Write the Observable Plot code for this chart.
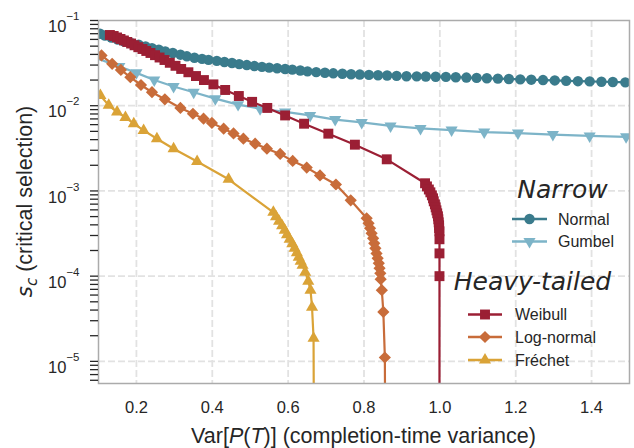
<!DOCTYPE html>
<html>
<head>
<meta charset="utf-8">
<script src="https://cdn.jsdelivr.net/npm/d3@7"></script>
<script src="https://cdn.jsdelivr.net/npm/@observablehq/plot@0.6"></script>
<style>
  body { margin: 0; background: #fff; }
  #chart svg { display: block; }
</style>
</head>
<body>
<div id="chart"></div>
<script>
// Critical selection s_c against completion-time variance, one curve per distribution family.

// ---- Narrow family ----
const normalX = [0.104,0.117,0.134,0.151,0.168,0.187,0.206,0.224,0.241,0.259,
  0.276,0.296,0.316,0.333,0.353,0.373,0.390,0.412,0.432,0.452,
  0.471,0.491,0.511,0.531,0.550,0.571,0.592,0.611,0.632,0.651,
  0.674,0.697,0.719,0.743,0.766,0.789,0.813,0.837,0.861,0.886,
  0.912,0.939,0.963,0.989,1.016,1.042,1.070,1.097,1.124,1.153,
  1.182,1.212,1.241,1.272,1.303,1.333,1.364,1.395,1.426,1.456,1.489];
const normalY = [0.0700,0.0667,0.0632,0.0598,0.0567,0.0543,0.0521,0.0496,0.0474,0.0454,
  0.0434,0.0415,0.0397,0.0380,0.0366,0.0355,0.0345,0.0336,0.0326,0.0317,
  0.0308,0.0300,0.0292,0.0286,0.0280,0.0275,0.0270,0.0265,0.0259,0.0253,
  0.0248,0.0244,0.0240,0.0237,0.0234,0.0232,0.0230,0.0228,0.0226,0.0224,
  0.0222,0.0221,0.0220,0.0219,0.0218,0.0216,0.0214,0.0212,0.0210,0.0208,
  0.0206,0.0204,0.0202,0.0200,0.0198,0.0196,0.0194,0.0193,0.0191,0.0190,0.0188];

const gumbelX = [0.092,0.155,0.200,0.247,0.298,0.351,0.408,0.468,0.526,0.592,0.658,
  0.724,0.794,0.870,0.949,1.031,1.117,1.206,1.298,1.395,1.491];
const gumbelY = [0.0365,0.0289,0.0243,0.0200,0.0168,0.0144,0.0121,0.0103,0.00922,0.00846,0.00769,
  0.00687,0.00637,0.00579,0.00542,0.00518,0.00490,0.00477,0.00458,0.00442,0.00431];

// ---- Heavy-tailed family ----
const weibullX = [0.130,0.140,0.149,0.158,0.167,0.176,0.186,0.195,0.205,0.216,
  0.226,0.237,0.249,0.261,0.274,0.288,0.303,0.318,0.337,0.357,
  0.378,0.403,0.434,0.470,0.505,0.545,0.592,0.642,0.706,0.776,0.860,
  0.961,0.966,0.971,0.975,0.979,0.982,0.984,0.987,0.989,0.991,
  0.993,0.995,0.996,0.997,0.998,0.998,0.999,0.999,0.999,0.999,0.999];
const weibullY = [0.0676,0.0658,0.0632,0.0607,0.0583,0.0560,0.0537,0.0512,0.0486,0.0463,
  0.0439,0.0416,0.0392,0.0368,0.0344,0.0319,0.0294,0.0270,0.0247,0.0223,
  0.0200,0.0178,0.0153,0.0130,0.0111,0.00942,0.00769,0.00615,0.00470,0.00349,0.00235,
  0.00123,0.00113,0.00104,0.000963,0.000888,0.000819,0.000755,0.000696,0.000642,0.000592,
  0.000546,0.000504,0.000465,0.000428,0.000395,0.000365,0.000336,0.000271,0.000185,0.000100,0.000001];

const lognormX = [0.108,0.136,0.159,0.184,0.212,0.241,0.275,0.316,0.349,0.377,
  0.399,0.430,0.456,0.482,0.513,0.544,0.579,0.612,0.649,0.684,0.726,0.765,
  0.807,0.812,0.816,0.820,0.824,0.827,0.830,0.833,0.836,0.839,
  0.841,0.843,0.844,0.847,0.851,0.855,0.856];
const lognormY = [0.0389,0.0310,0.0263,0.0216,0.0175,0.0144,0.0119,0.00942,0.00805,0.00704,
  0.00629,0.00537,0.00473,0.00410,0.00359,0.00313,0.00272,0.00225,0.00188,0.00152,0.00119,0.000776,
  0.000478,0.000417,0.000365,0.000318,0.000278,0.000243,0.000212,0.000185,0.000162,0.000142,
  0.000124,0.000108,0.0000920,0.0000684,0.0000380,0.0000111,0.000001];

const frechetX = [0.105,0.127,0.149,0.171,0.193,0.219,0.254,0.298,0.360,0.443,
  0.561,0.568,0.576,0.584,0.591,0.597,0.604,0.611,0.617,0.623,
  0.628,0.633,0.638,0.645,0.653,0.659,0.663,0.667,0.668];
const frechetY = [0.0132,0.0101,0.00842,0.00729,0.00615,0.00513,0.00410,0.00313,0.00222,0.00137,
  0.000561,0.000497,0.000440,0.000390,0.000345,0.000306,0.000271,0.000240,0.000212,0.000188,
  0.000167,0.000150,0.000134,0.000111,0.0000871,0.0000684,0.0000432,0.0000187,0.000001];

// ---- axis ticks ----
const xTicks = [0.2, 0.4, 0.6, 0.8, 1.0, 1.2, 1.4];
const yDecades = [1e-5, 1e-4, 1e-3, 1e-2, 1e-1];
const yMinorSteps = [2, 3, 4, 5, 6, 7, 8, 9];

const rows = (xs, ys) => xs.map((x, i) => ({x, y: ys[i]}));

const groups = [
  {title: "Narrow", series: [
    {name: "Normal", color: "#3a7b8c", symbol: "circle", r: 5.2, rotate: 0, data: rows(normalX, normalY)},
    {name: "Gumbel", color: "#7db4c8", symbol: "triangle", r: 4.5, rotate: 180, data: rows(gumbelX, gumbelY)}
  ]},
  {title: "Heavy-tailed", series: [
    {name: "Weibull", color: "#9b1f34", symbol: "square", r: 5.6, rotate: 0, data: rows(weibullX, weibullY)},
    {name: "Log-normal", color: "#c86c3a", symbol: "diamond2", r: 5.5, rotate: 0, data: rows(lognormX, lognormY)},
    {name: "Fréchet", color: "#daa337", symbol: "triangle", r: 4.5, rotate: 0, data: rows(frechetX, frechetY)}
  ]}
];
const allSeries = groups.flatMap(g => g.series);

const yDomain = [5.5e-6, 0.1];
const yMinor = yDecades.flatMap(d => yMinorSteps.map(k => k * d / 10))
  .filter(v => v >= yDomain[0] && v <= yDomain[1]);

const textColor = "#262626";
const gridStyle = {stroke: "#e2e2e2", strokeOpacity: 1, strokeWidth: 1.8, strokeDasharray: "7,3"};

const seriesMarks = allSeries.flatMap(s => [
  Plot.line(s.data, {x: "x", y: "y", stroke: s.color, strokeWidth: 2.2, clip: true}),
  Plot.dot(s.data, {x: "x", y: "y", symbol: s.symbol, r: s.r, rotate: s.rotate, fill: s.color, stroke: "none", clip: true})
]);

const chart = Plot.plot({
  width: 634,
  height: 448,
  marginLeft: 98,
  marginRight: 5,
  marginTop: 20,
  marginBottom: 65,
  style: {fontFamily: "'Liberation Sans', Arial, sans-serif", fontSize: "16.5px", color: textColor, background: "#fff"},
  x: {domain: [0.1, 1.5], label: null},
  y: {type: "log", domain: yDomain, label: null},
  marks: [
    Plot.gridX(xTicks, gridStyle),
    Plot.gridY(yDecades.filter(d => d < 0.1), gridStyle),
    ...seriesMarks,
    Plot.frame({stroke: "#ababab", strokeWidth: 1.5}),
    Plot.axisX(xTicks, {tickSize: 0, tickPadding: 18, tickFormat: d3.format(".1f"), color: textColor, fontSize: 16.5}),
    Plot.axisY(yMinor, {tickSize: 8, tickFormat: () => "", color: textColor, strokeWidth: 1.3}),
    Plot.axisY(yDecades, {tickSize: 8, tickPadding: 11, color: textColor, strokeWidth: 1.3, fontSize: 16.5,
      tickFormat: d => "\u2212" + String(-Math.round(Math.log10(d)))})
  ]
});

document.getElementById("chart").appendChild(chart);
const svg = d3.select(chart);

// y tick labels as powers of ten: "10" with a raised exponent
svg.selectAll('g[aria-label="y-axis tick label"] text').each(function () {
  const exp = this.textContent;
  if (!exp) return;
  const t = d3.select(this);
  t.text(null);
  t.append("tspan").attr("dy", 6.4).text("10");
  t.append("tspan").attr("dy", -12).attr("font-size", "11.5px").text(exp);
});

// axis titles
const font = "'Liberation Sans', Arial, sans-serif";
const xl = svg.append("text")
  .attr("x", 363.5).attr("y", 443.3)
  .attr("text-anchor", "middle")
  .attr("font-family", font).attr("font-size", 21.5).attr("fill", textColor);
xl.append("tspan").text("Var[");
xl.append("tspan").attr("font-style", "italic").text("P");
xl.append("tspan").text("(");
xl.append("tspan").attr("font-style", "italic").text("T");
xl.append("tspan").text(")] (completion-time variance)");

const yl = svg.append("text")
  .attr("transform", "translate(32,201.5) rotate(-90)")
  .attr("text-anchor", "middle")
  .attr("font-family", font).attr("font-size", 21.5).attr("fill", textColor);
yl.append("tspan").attr("font-family", "'DejaVu Sans'").attr("font-style", "italic").text("s");
yl.append("tspan").attr("font-family", "'DejaVu Sans'").attr("font-style", "italic")
  .attr("font-size", 15).attr("dy", 4.5).text("c");
yl.append("tspan").attr("dy", -4.5).text(" (critical selection)");

// legend: one titled block per family
const legendLayout = [
  {cx: 562.5, titleY: 198, x0: 512, x1: 547, textX: 558, rowY: [219, 241.5]},
  {cx: 532.5, titleY: 290, x0: 468, x1: 502, textX: 515, rowY: [314.5, 337, 360]}
];
const symbolTypes = {circle: d3.symbolCircle, square: d3.symbolSquare, diamond2: d3.symbolDiamond2, triangle: d3.symbolTriangle};
const lg = svg.append("g").attr("font-family", font).attr("fill", textColor);
groups.forEach((g, gi) => {
  const L = legendLayout[gi];
  lg.append("text")
    .attr("x", L.cx).attr("y", L.titleY)
    .attr("text-anchor", "middle")
    .attr("font-family", "'DejaVu Sans'").attr("font-style", "italic").attr("font-size", 25)
    .text(g.title);
  g.series.forEach((s, i) => {
    const y = L.rowY[i];
    const mx = (L.x0 + L.x1) / 2;
    lg.append("line").attr("x1", L.x0).attr("x2", L.x1).attr("y1", y).attr("y2", y)
      .attr("stroke", s.color).attr("stroke-width", 2.4);
    lg.append("path")
      .attr("d", d3.symbol(symbolTypes[s.symbol], Math.PI * s.r * s.r)())
      .attr("transform", `translate(${mx},${y}) rotate(${s.rotate})`)
      .attr("fill", s.color);
    lg.append("text")
      .attr("x", L.textX).attr("y", y + 5.6)
      .attr("text-anchor", "start")
      .attr("font-size", 16)
      .text(s.name);
  });
});
</script>
</body>
</html>
